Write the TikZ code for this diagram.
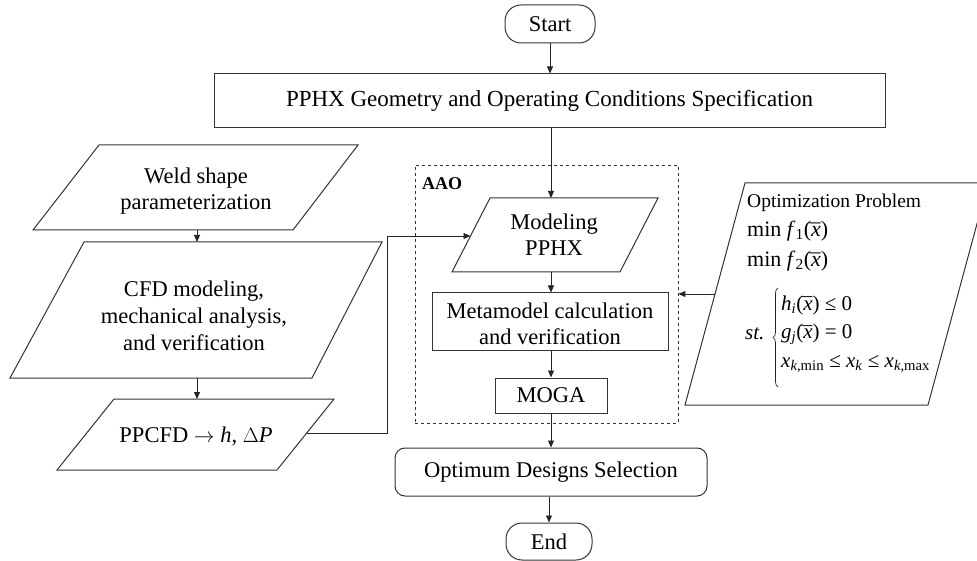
\documentclass[tikz,border=0pt]{standalone}
\usepackage{fontspec}
\setmainfont{Liberation Serif}
\usetikzlibrary{arrows.meta,decorations.pathreplacing}

% italic x with a bar over it
\newcommand{\xbr}{\textit{x}\llap{\raisebox{-0.14em}{\char"00AF}\kern0.01em}}

\begin{document}
\begin{tikzpicture}[x=1pt, y=-1pt,
  outline/.style={draw=black!80, line width=1pt},
  conn/.style={draw=black!85, line width=0.9pt},
  arr/.style={conn, -{Triangle[length=7pt,width=6pt]}},
  body/.style={font=\fontsize{22.5}{26}\selectfont, align=center, inner sep=0pt},
  procbox/.style={outline, body},
  termbox/.style={outline, body, rounded corners=16pt},
  selbox/.style={outline, body, rounded corners=10pt},
  optline/.style={font=\fontsize{22}{26}\selectfont, anchor=west, inner sep=0pt},
  conline/.style={font=\fontsize{21}{24}\selectfont, anchor=west, inner sep=0pt},
]
\useasboundingbox (0,0) rectangle (977,561);

% ---- main column ----
\node[termbox, minimum width=90pt, minimum height=38pt] (start) at (550,24) {Start};
\node[procbox, font=\fontsize{23}{26}\selectfont, minimum width=671pt, minimum height=54pt]
  (spec) at (549.5,101) {PPHX Geometry and Operating Conditions Specification};

% all-at-once optimisation frame
\node[draw=black!80, dashed, line width=0.8pt, minimum width=263pt, minimum height=258pt,
      inner sep=0pt] (aao) at (546.5,294) {};
\node[font=\bfseries\fontsize{18}{20}\selectfont, anchor=west, inner sep=0pt] (aaolbl)
  at (422,184) {AAO};

% Modeling PPHX (parallelogram)
\coordinate (m1) at (490,198);
\coordinate (m2) at (658,198);
\coordinate (m3) at (620,272);
\coordinate (m4) at (452,272);
\draw[outline] (m1) -- (m2) -- (m3) -- (m4) -- cycle;
\node[body] (model) at (554,235) {Modeling\\PPHX};
\coordinate (modtop) at (551,198);
\coordinate (modbot) at (551,272);
\coordinate (modleft) at (470.5,236);

\node[procbox, minimum width=236pt, minimum height=57pt] (meta) at (550,321.5) {};
\node[body] (metatxt) at (550,323.5) {Metamodel calculation\\and verification};
\node[procbox, minimum width=112pt, minimum height=35pt] (moga) at (551,395.5) {MOGA};

\node[selbox, minimum width=312pt, minimum height=48pt] (optsel) at (551,472)
  {Optimum Designs Selection};
\node[termbox, minimum width=86pt, minimum height=37pt] (finish) at (549,541.5) {End};

% ---- left column ----
\coordinate (w1) at (99,145);
\coordinate (w2) at (358,145);
\coordinate (w3) at (293,230);
\coordinate (w4) at (33,230);
\draw[outline] (w1) -- (w2) -- (w3) -- (w4) -- cycle;
\node[body] (weld) at (196,191) {Weld shape\\parameterization};
\coordinate (weldbot) at (197,230);

\coordinate (c1) at (84,242);
\coordinate (c2) at (382,242);
\coordinate (c3) at (312,378);
\coordinate (c4) at (10,378);
\draw[outline] (c1) -- (c2) -- (c3) -- (c4) -- cycle;
\node[body, font=\fontsize{22.5}{27}\selectfont] (cfd) at (194,316)
  {CFD modeling,\\mechanical analysis,\\and verification};
\coordinate (cfdtop) at (197,242);
\coordinate (cfdbot) at (197,378);

\coordinate (p1) at (114,399);
\coordinate (p2) at (334,399);
\coordinate (p3) at (277,470);
\coordinate (p4) at (57,470);
\draw[outline] (p1) -- (p2) -- (p3) -- (p4) -- cycle;
\node[body] (ppcfd) at (196,436) {PPCFD $\rightarrow$ \textit{h}, $\Delta$\textit{P}};
\coordinate (pptop) at (197,399);
\coordinate (ppright) at (307,433);
\coordinate (riser) at (387,236);

% ---- optimisation problem ----
\coordinate (o1) at (745,183);
\coordinate (o2) at (988,183);
\coordinate (o3) at (928,405);
\coordinate (o4) at (685,405);
\draw[outline] (o1) -- (o2) -- (o3) -- (o4) -- cycle;
\coordinate (optleft) at (715,294);
\node[optline, font=\fontsize{19.5}{22}\selectfont] (opttitle) at (747,203) {Optimization Problem};
\node[optline] (minf1) at (747,231) {min \textit{f}\textsubscript{1}(\xbr)};
\node[optline] (minf2) at (747,261) {min \textit{f}\textsubscript{2}(\xbr)};
\node[conline] (st) at (745,334) {\textit{st.}};
\draw[draw=black!85, line width=0.7pt, decorate, decoration={brace, amplitude=5pt}]
  (778,387) -- (778,288);
\node[conline] (con1) at (781,305) {\textit{h}\textsubscript{\textit{i}}(\xbr) ≤ 0};
\node[conline] (con2) at (781,334) {\textit{g}\textsubscript{\textit{j}}(\xbr) = 0};
\node[conline] (con3) at (781,364)
  {\textit{x}\textsubscript{\textit{k},min} ≤ \textit{x}\textsubscript{\textit{k}} ≤ \textit{x}\textsubscript{\textit{k},max}};

% ---- connectors ----
\draw[arr] (start.south) -- (start.south |- spec.north);
\draw[arr] (spec.south -| modtop) -- (modtop);
\draw[arr] (modbot) -- (modbot |- meta.north);
\draw[arr] (meta.south -| moga.north) -- (moga.north);
\draw[arr] (moga.south) -- (moga.south |- optsel.north);
\draw[arr] (optsel.south -| finish.north) -- (finish.north);
\draw[arr] (weldbot) -- (cfdtop);
\draw[arr] (cfdbot) -- (pptop);
\draw[arr] (ppright) -| (riser) -- (modleft);
\draw[arr] (optleft) -- (aao.east);
\end{tikzpicture}
\end{document}
